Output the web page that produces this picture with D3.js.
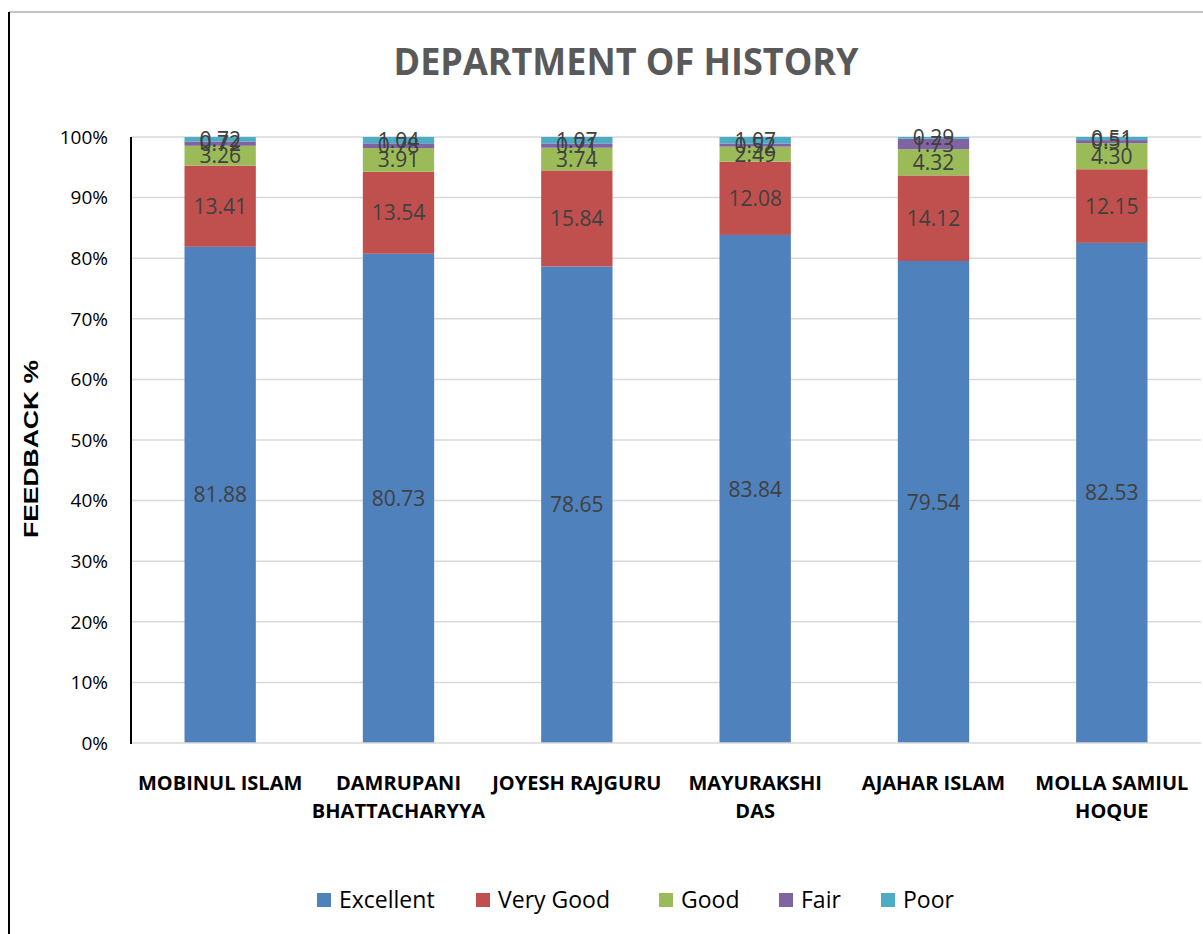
<!DOCTYPE html>
<html><head><meta charset="utf-8">
<script src="https://cdn.jsdelivr.net/npm/d3@7"></script>
<style>body{margin:0;background:#fff;}svg{display:block;font-family:"Open Sans",sans-serif;}</style>
</head><body>
<svg id="chart" width="1203" height="934"></svg>
<script>
const categories = [["MOBINUL  ISLAM"],["DAMRUPANI","BHATTACHARYYA"],["JOYESH RAJGURU"],["MAYURAKSHI","DAS"],["AJAHAR ISLAM"],["MOLLA SAMIUL","HOQUE"]];
const seriesNames = ["Excellent","Very Good","Good","Fair","Poor"];
const excellent = [81.88,80.73,78.65,83.84,79.54,82.53];
const veryGood = [13.41,13.54,15.84,12.08,14.12,12.15];
const good = [3.26,3.91,3.74,2.49,4.32,4.30];
const fair = [0.72,0.78,0.71,0.52,1.73,0.51];
const poor = [0.72,1.04,1.07,1.07,0.29,0.51];
const colors = ["#4f81bd","#c0504d","#9bbb59","#8064a2","#4bacc6"];
const yTicks = [0,10,20,30,40,50,60,70,80,90,100];

(function(){
const series = [excellent, veryGood, good, fair, poor];
const svg = d3.select("#chart");
const pL = 131, pR = 1201, pT = 137, pB = 743;

svg.append("line").attr("x1",9).attr("x2",1203).attr("y1",12).attr("y2",12).attr("stroke","#888").attr("stroke-width",1);
svg.append("line").attr("x1",9).attr("x2",9).attr("y1",12).attr("y2",934).attr("stroke","#000").attr("stroke-width",2);

const x = d3.scaleBand().domain(categories.map((c,i)=>i)).range([pL,pR]).paddingInner(0.6).paddingOuter(0.3);
const y = d3.scaleLinear().domain([0,100]).range([pB,pT]);

svg.append("g").selectAll("line").data(yTicks.filter(t=>t>0)).join("line")
  .attr("x1",pL).attr("x2",pR).attr("y1",d=>y(d)).attr("y2",d=>y(d))
  .attr("stroke","#d9d9d9").attr("stroke-width",1.5);

const stacked = categories.map((c,i)=>{let acc=0;return series.map((s,k)=>{const v=s[i];const r={i,k,v,y0:acc,y1:acc+v};acc+=v;return r;});}).flat();
svg.append("g").selectAll("rect").data(stacked).join("rect")
  .attr("x",d=>x(d.i)).attr("width",x.bandwidth())
  .attr("y",d=>y(Math.min(d.y1,100))).attr("height",d=>y(d.y0)-y(Math.min(d.y1,100)))
  .attr("fill",d=>colors[d.k]);

svg.append("line").attr("x1",pL).attr("x2",pR).attr("y1",pB).attr("y2",pB).attr("stroke","#d9d9d9").attr("stroke-width",1.5);
svg.append("line").attr("x1",pL).attr("x2",pL).attr("y1",pT).attr("y2",pB+1).attr("stroke","#000").attr("stroke-width",2);

svg.append("g").selectAll("text").data(yTicks).join("text")
  .attr("x",pL-23).attr("y",d=>y(d)).attr("dy","0.36em").attr("text-anchor","end")
  .attr("font-size",19).attr("fill","#000").text(d=>d+"%");

svg.append("g").selectAll("text").data(stacked).join("text")
  .attr("x",d=>x(d.i)+x.bandwidth()/2).attr("y",d=>y((d.y0+Math.min(d.y1,100))/2)).attr("dy","0.36em")
  .attr("text-anchor","middle").attr("font-size",21).attr("fill","#404040")
  .text(d=>d.v.toFixed(2));

const xl = svg.append("g").selectAll("text").data(categories.map((c,i)=>({c,i}))).join("text")
  .attr("x",d=>x(d.i)+x.bandwidth()/2).attr("y",790).attr("text-anchor","middle")
  .attr("font-size",20).attr("font-weight","bold").attr("fill","#000");
xl.each(function(d){d3.select(this).selectAll("tspan").data(d.c).join("tspan")
  .attr("x",x(d.i)+x.bandwidth()/2).attr("dy",(t,j)=>j===0?0:28).text(t=>t);});

svg.append("text").attr("x",626).attr("y",75).attr("text-anchor","middle")
  .attr("font-size",37).attr("font-weight","bold").attr("fill","#595959")
  .attr("textLength",465).attr("lengthAdjust","spacingAndGlyphs").text("DEPARTMENT OF HISTORY");

svg.append("text").attr("transform","translate(38,449) rotate(-90)").attr("text-anchor","middle")
  .attr("font-family","'Liberation Sans',Arial,sans-serif")
  .attr("font-size",21).attr("font-weight","bold").attr("fill","#000")
  .attr("textLength",178).attr("lengthAdjust","spacingAndGlyphs")
  .text("FEEDBACK %");

const legX = [317,476,659,779,881];
const lg = svg.append("g").selectAll("g").data(seriesNames.map((n,k)=>({n,k}))).join("g")
  .attr("transform",d=>`translate(${legX[d.k]},893)`);
lg.append("rect").attr("width",14).attr("height",14).attr("fill",d=>colors[d.k]);
lg.append("text").attr("x",22).attr("y",7).attr("dy","0.36em").attr("font-size",23).attr("fill","#000").text(d=>d.n);
})();
</script>
</body></html>
